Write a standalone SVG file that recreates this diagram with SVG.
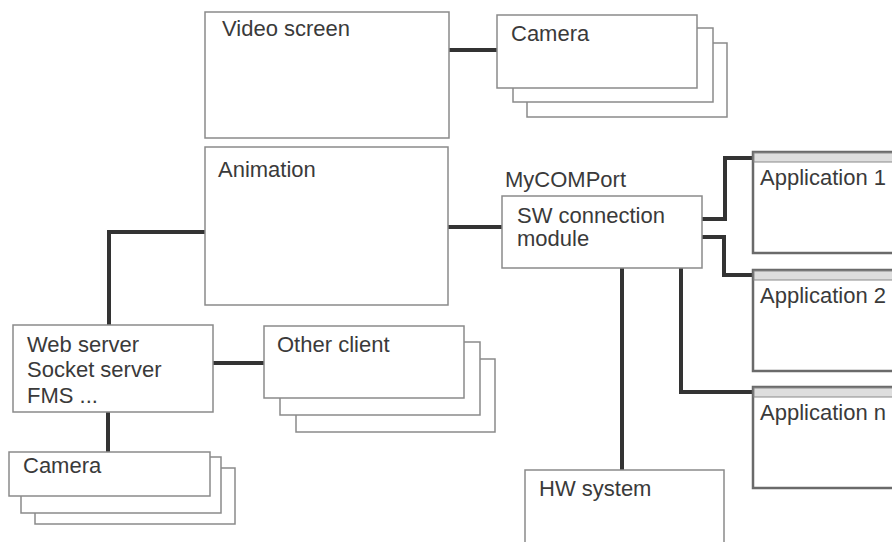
<svg xmlns="http://www.w3.org/2000/svg" width="892" height="542" viewBox="0 0 892 542">
<style>
.box{fill:#fff;stroke:#8a8a8a;stroke-width:1.5}
.app{fill:#fff;stroke:#6a6a6a;stroke-width:2.5}
.hdr{fill:#dedede;stroke:#8a8a8a;stroke-width:1}
.t{font-family:"Liberation Sans",Arial,sans-serif;font-size:22px;fill:#3a3a3a}
.c{fill:none;stroke:#333;stroke-width:4;stroke-linejoin:miter}
</style>
<rect width="892" height="542" fill="#fff"/>
<g id="connectors">
<path class="c" d="M449 50H497"/>
<path class="c" d="M448 227H502"/>
<path class="c" d="M205 232H109V325"/>
<path class="c" d="M108 412V452"/>
<path class="c" d="M213 363H264"/>
<path class="c" d="M702 219H725V158H753"/>
<path class="c" d="M702 237H724V275H753"/>
<path class="c" d="M681 268V392H753"/>
<path class="c" d="M622 268V470"/>
</g>
<g id="video-screen">
<rect class="box" x="205" y="12" width="244" height="126"/>
<text class="t" x="222" y="36">Video screen</text>
</g>
<g id="camera-top">
<rect class="box" x="527" y="43" width="200" height="74"/>
<rect class="box" x="513" y="28" width="200" height="74"/>
<rect class="box" x="497" y="15" width="200" height="73"/>
<text class="t" x="511" y="41">Camera</text>
</g>
<g id="animation">
<rect class="box" x="205" y="147" width="243" height="158"/>
<text class="t" x="218" y="177">Animation</text>
</g>
<g id="sw-module">
<text class="t" x="505" y="187">MyCOMPort</text>
<rect class="box" x="502" y="196" width="200" height="72"/>
<text class="t" x="517" y="223">SW connection</text>
<text class="t" x="517" y="246">module</text>
</g>
<g id="app1">
<rect class="app" x="753" y="152" width="200" height="101"/>
<rect class="hdr" x="754" y="153" width="200" height="9"/>
<text class="t" x="760" y="185">Application 1</text>
</g>
<g id="app2">
<rect class="app" x="753" y="270" width="200" height="101"/>
<rect class="hdr" x="754" y="271" width="200" height="9"/>
<text class="t" x="760" y="303">Application 2</text>
</g>
<g id="appn">
<rect class="app" x="753" y="387" width="200" height="101"/>
<rect class="hdr" x="754" y="388" width="200" height="9"/>
<text class="t" x="760" y="420">Application n</text>
</g>
<g id="web-server">
<rect class="box" x="13" y="325" width="200" height="87"/>
<text class="t" x="27" y="352">Web server</text>
<text class="t" x="27" y="377">Socket server</text>
<text class="t" x="27" y="403">FMS ...</text>
</g>
<g id="other-client">
<rect class="box" x="296" y="359" width="199" height="73"/>
<rect class="box" x="280" y="342" width="200" height="73"/>
<rect class="box" x="264" y="326" width="200" height="72"/>
<text class="t" x="277" y="352">Other client</text>
</g>
<g id="camera-bottom">
<rect class="box" x="35" y="468" width="200" height="56"/>
<rect class="box" x="21" y="457" width="200" height="56"/>
<rect class="box" x="9" y="452" width="201" height="44"/>
<text class="t" x="23" y="473">Camera</text>
</g>
<g id="hw-system">
<rect class="box" x="525" y="470" width="199" height="80"/>
<text class="t" x="539" y="496">HW system</text>
</g>
</svg>
